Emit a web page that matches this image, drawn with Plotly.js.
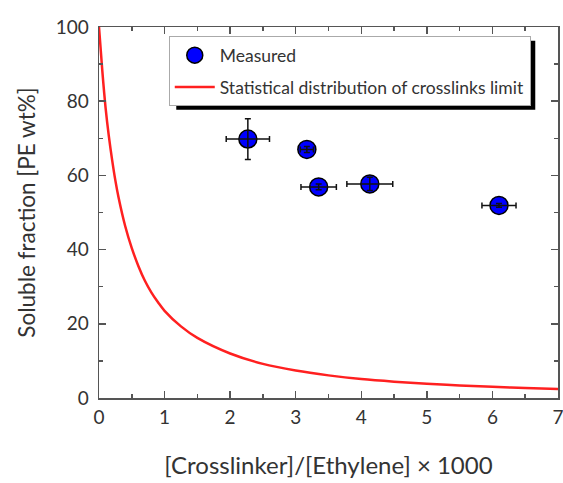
<!DOCTYPE html>
<html>
<head>
<meta charset="utf-8">
<script src="https://cdn.plot.ly/plotly-3.0.1.min.js"></script>
<style>html,body{margin:0;padding:0;background:#fff;}#chart{width:563px;height:483px;}</style>
</head>
<body>
<div id="chart"></div>
<script>
// Measured data
const measuredX = [2.27, 3.17, 3.35, 4.13, 6.10];
const measuredY = [69.8, 67.0, 56.9, 57.7, 51.9];
const measuredXErr = [0.33, 0.10, 0.27, 0.35, 0.26];
const measuredYErr = [5.5, 0.8, 0.8, 1.8, 0.5];

// Statistical distribution of crosslinks limit
const limitX = [0, 0.05, 0.1, 0.15, 0.2, 0.25, 0.3, 0.4, 0.5, 0.6, 0.7, 0.8, 0.9, 1.0, 1.25, 1.5, 2.0, 2.5, 3.0, 3.5, 4.0, 4.5, 5.0, 5.5, 6.0, 6.5, 7.0];
const limitY = [100, 88.3, 78.3, 70.6, 64.2, 58.6, 53.9, 46.3, 40.4, 35.6, 31.6, 28.4, 25.8, 23.5, 19.3, 16.2, 12, 9.2, 7.4, 6.1, 5.1, 4.4, 3.85, 3.4, 3.0, 2.7, 2.45];

const xTickVals = [0, 1, 2, 3, 4, 5, 6, 7];
const yTickVals = [0, 20, 40, 60, 80, 100];

const FONT = 'Lato, "Open Sans", sans-serif';
const TXT = '#333333';

const traces = [
  {
    x: measuredX, y: measuredY, type: 'scatter', mode: 'markers', name: 'Measured',
    legendgroup: 'a',
    marker: {color: '#0000ff', size: 18, line: {color: '#000000', width: 1.5}},
    hoverinfo: 'skip'
  },
  {
    x: limitX, y: limitY, type: 'scatter', mode: 'lines',
    name: 'Statistical distribution of crosslinks limit',
    legendgroup: 'b',
    line: {color: '#ff2020', width: 2.5, shape: 'spline', smoothing: 1},
    hoverinfo: 'skip'
  },
  {
    x: measuredX, y: measuredY, type: 'scatter', mode: 'markers', showlegend: false,
    marker: {color: 'rgba(0,0,0,0)', size: 1},
    error_x: {type: 'data', array: measuredXErr, visible: true, color: '#111', thickness: 1.5, width: 3},
    error_y: {type: 'data', array: measuredYErr, visible: true, color: '#111', thickness: 1.5, width: 3},
    hoverinfo: 'skip'
  }
];

const axisCommon = {
  showgrid: false, zeroline: false,
  showline: true, linecolor: '#555555', linewidth: 1.5,
  mirror: 'allticks',
  ticks: 'inside', ticklen: 7, tickwidth: 1.5, tickcolor: '#555555',
  ticklabeloverflow: 'allow',
  tickfont: {family: FONT, size: 19, color: TXT}
};

const layout = {
  width: 563, height: 483,
  margin: {l: 99, r: 5, t: 27, b: 85},
  paper_bgcolor: '#ffffff', plot_bgcolor: '#ffffff',
  showlegend: true,
  xaxis: Object.assign({}, axisCommon, {
    range: [0, 7], tickvals: xTickVals, ticklabelstandoff: 2,
    minor: {dtick: 0.5, tick0: 0, ticks: 'inside', ticklen: 4, tickwidth: 1.5, tickcolor: '#555555'},
    title: {text: '[Crosslinker]/[Ethylene] × 1000', font: {family: FONT, size: 24, color: TXT}, standoff: 30}
  }),
  yaxis: Object.assign({}, axisCommon, {
    range: [0, 100], tickvals: yTickVals, ticklabelstandoff: 5,
    minor: {dtick: 10, tick0: 0, ticks: 'inside', ticklen: 4, tickwidth: 1.5, tickcolor: '#555555'},
    title: {text: 'Soluble fraction [PE wt%]', font: {family: FONT, size: 22.5, color: TXT}, standoff: 14}
  }),
  legend: {
    x: 0.152, y: 0.975, xanchor: 'left', yanchor: 'top',
    bgcolor: '#ffffff', bordercolor: '#aaaaaa', borderwidth: 1,
    font: {family: FONT, size: 17.5, color: TXT},
    tracegroupgap: 6, itemwidth: 40
  }
};

Plotly.newPlot('chart', traces, layout, {staticPlot: true}).then(function (gd) {
  const bg = gd.querySelector('.legend .bg');
  if (!bg) return;
  const r = bg.getBoundingClientRect();
  const c = gd.getBoundingClientRect();
  const L = 99, T = 27, W = 459, H = 371;
  const left = r.left - c.left, right = r.right - c.left;
  const top = r.top - c.top, bottom = r.bottom - c.top;
  Plotly.relayout(gd, {shapes: [{
    type: 'rect', xref: 'paper', yref: 'paper', layer: 'above',
    x0: (left + 7 - L) / W, x1: (right + 5 - L) / W,
    y0: (T + H - (bottom + 4)) / H, y1: (T + H - (top + 4)) / H,
    fillcolor: '#000000', line: {width: 0}
  }]});
});
</script>
</body>
</html>
